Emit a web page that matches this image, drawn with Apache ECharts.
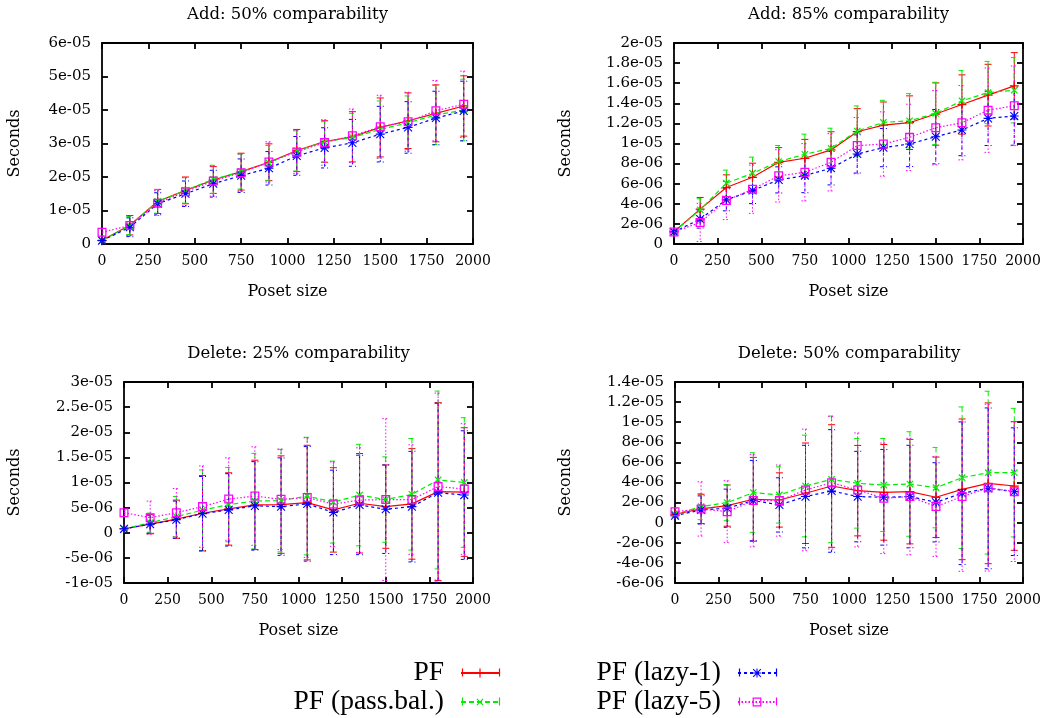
<!DOCTYPE html>
<html>
<head>
<meta charset="utf-8">
<script src="https://cdn.jsdelivr.net/npm/echarts@6/dist/echarts.min.js"></script>
<style>
  html, body { margin: 0; padding: 0; background: #fff; }
  #chart { width: 1060px; height: 718px; }
</style>
</head>
<body>
<div id="chart"></div>
<script>
// ---------------- DATA ----------------
const posetSizes = [0, 150, 300, 450, 600, 750, 900, 1050, 1200, 1350, 1500, 1650, 1800, 1950];
const seriesNames = ['PF', 'PF (pass.bal.)', 'PF (lazy-1)', 'PF (lazy-5)'];
const panelTitles = ['Add: 50% comparability', 'Add: 85% comparability', 'Delete: 25% comparability', 'Delete: 50% comparability'];
const xAxisName = 'Poset size';
const yAxisName = 'Seconds';

// Add: 50% comparability (seconds)
const add50_pf      = [0.11e-5, 0.56e-5, 1.27e-5, 1.60e-5, 1.91e-5, 2.16e-5, 2.44e-5, 2.79e-5, 3.06e-5, 3.20e-5, 3.48e-5, 3.68e-5, 3.90e-5, 4.12e-5];
const add50_pf_err  = [0.05e-5, 0.29e-5, 0.36e-5, 0.40e-5, 0.40e-5, 0.55e-5, 0.55e-5, 0.63e-5, 0.62e-5, 0.75e-5, 0.88e-5, 0.83e-5, 0.85e-5, 0.90e-5];
const add50_pb      = [0.10e-5, 0.55e-5, 1.27e-5, 1.60e-5, 1.93e-5, 2.16e-5, 2.42e-5, 2.78e-5, 3.05e-5, 3.18e-5, 3.42e-5, 3.62e-5, 3.85e-5, 4.00e-5];
const add50_pb_err  = [0.05e-5, 0.27e-5, 0.35e-5, 0.38e-5, 0.42e-5, 0.52e-5, 0.52e-5, 0.60e-5, 0.60e-5, 0.72e-5, 0.85e-5, 0.80e-5, 0.88e-5, 0.92e-5];
const add50_l1      = [0.10e-5, 0.50e-5, 1.20e-5, 1.50e-5, 1.80e-5, 2.04e-5, 2.26e-5, 2.63e-5, 2.87e-5, 3.02e-5, 3.28e-5, 3.48e-5, 3.76e-5, 3.97e-5];
const add50_l1_err  = [0.05e-5, 0.28e-5, 0.33e-5, 0.38e-5, 0.40e-5, 0.50e-5, 0.50e-5, 0.58e-5, 0.60e-5, 0.70e-5, 0.83e-5, 0.77e-5, 0.80e-5, 0.89e-5];
const add50_l5      = [0.35e-5, 0.55e-5, 1.22e-5, 1.56e-5, 1.88e-5, 2.13e-5, 2.45e-5, 2.75e-5, 3.03e-5, 3.23e-5, 3.50e-5, 3.65e-5, 3.98e-5, 4.17e-5];
const add50_l5_err  = [0.10e-5, 0.30e-5, 0.37e-5, 0.42e-5, 0.45e-5, 0.56e-5, 0.60e-5, 0.65e-5, 0.68e-5, 0.80e-5, 0.94e-5, 0.88e-5, 0.90e-5, 0.99e-5];

// Add: 85% comparability (seconds)
const add85_pf      = [1.22e-6, 3.47e-6, 5.62e-6, 6.64e-6, 8.13e-6, 8.53e-6, 9.36e-6, 11.17e-6, 11.83e-6, 12.07e-6, 12.93e-6, 13.88e-6, 14.81e-6, 15.74e-6];
const add85_pf_err  = [0.20e-6, 1.16e-6, 1.26e-6, 1.40e-6, 1.46e-6, 1.88e-6, 1.81e-6, 2.30e-6, 2.30e-6, 2.67e-6, 3.10e-6, 2.95e-6, 3.07e-6, 3.30e-6];
const add85_pb      = [1.20e-6, 3.40e-6, 6.05e-6, 7.04e-6, 8.20e-6, 8.93e-6, 9.52e-6, 11.24e-6, 12.10e-6, 12.26e-6, 12.99e-6, 14.25e-6, 15.07e-6, 15.30e-6];
const add85_pb_err  = [0.20e-6, 1.10e-6, 1.30e-6, 1.60e-6, 1.60e-6, 2.00e-6, 2.00e-6, 2.50e-6, 2.20e-6, 2.70e-6, 3.10e-6, 3.00e-6, 3.10e-6, 3.25e-6];
const add85_l1      = [1.20e-6, 2.48e-6, 4.40e-6, 5.32e-6, 6.38e-6, 6.81e-6, 7.54e-6, 8.96e-6, 9.59e-6, 9.95e-6, 10.68e-6, 11.34e-6, 12.50e-6, 12.73e-6];
const add85_l1_err  = [0.20e-6, 0.90e-6, 1.10e-6, 1.30e-6, 1.30e-6, 1.70e-6, 1.66e-6, 1.90e-6, 1.90e-6, 2.25e-6, 2.70e-6, 2.55e-6, 2.70e-6, 2.90e-6];
const add85_l5      = [1.20e-6, 2.15e-6, 4.33e-6, 5.45e-6, 6.78e-6, 7.14e-6, 8.13e-6, 9.79e-6, 9.95e-6, 10.61e-6, 11.57e-6, 12.07e-6, 13.32e-6, 13.75e-6];
const add85_l5_err  = [0.25e-6, 1.90e-6, 1.90e-6, 2.40e-6, 2.60e-6, 2.85e-6, 2.85e-6, 2.80e-6, 3.20e-6, 3.30e-6, 3.70e-6, 3.70e-6, 4.20e-6, 3.96e-6];

// Delete: 25% comparability (seconds)
const del25_pf      = [0.78e-6, 1.70e-6, 2.70e-6, 3.88e-6, 4.74e-6, 5.54e-6, 5.60e-6, 6.00e-6, 4.55e-6, 5.87e-6, 5.20e-6, 5.74e-6, 8.18e-6, 8.10e-6];
const del25_pf_err  = [0.30e-6, 1.90e-6, 3.80e-6, 7.50e-6, 7.20e-6, 8.90e-6, 9.70e-6, 11.40e-6, 8.40e-6, 9.90e-6, 8.30e-6, 11.00e-6, 17.70e-6, 12.80e-6];
const del25_pb      = [0.78e-6, 2.00e-6, 3.20e-6, 4.50e-6, 5.60e-6, 6.30e-6, 6.40e-6, 7.30e-6, 6.10e-6, 7.50e-6, 6.60e-6, 7.65e-6, 10.50e-6, 10.00e-6];
const del25_pb_err  = [0.30e-6, 1.90e-6, 4.00e-6, 8.00e-6, 7.40e-6, 9.50e-6, 10.20e-6, 11.70e-6, 8.15e-6, 10.10e-6, 8.50e-6, 11.10e-6, 17.70e-6, 12.90e-6];
const del25_l1      = [0.78e-6, 1.70e-6, 2.60e-6, 3.80e-6, 4.55e-6, 5.35e-6, 5.20e-6, 5.75e-6, 4.05e-6, 5.54e-6, 4.68e-6, 5.20e-6, 7.97e-6, 7.50e-6];
const del25_l1_err  = [0.30e-6, 1.80e-6, 3.70e-6, 7.40e-6, 7.20e-6, 8.80e-6, 9.70e-6, 11.40e-6, 8.40e-6, 9.90e-6, 8.80e-6, 11.00e-6, 17.80e-6, 12.80e-6];
const del25_l5      = [4.00e-6, 3.00e-6, 4.00e-6, 5.20e-6, 6.70e-6, 7.30e-6, 6.65e-6, 7.00e-6, 5.70e-6, 6.50e-6, 6.60e-6, 6.60e-6, 9.20e-6, 8.70e-6];
const del25_l5_err  = [0.40e-6, 3.30e-6, 4.80e-6, 8.10e-6, 8.20e-6, 9.80e-6, 10.00e-6, 11.90e-6, 8.40e-6, 10.40e-6, 16.10e-6, 10.90e-6, 18.60e-6, 13.00e-6];

// Delete: 50% comparability (seconds)
const del50_pf      = [0.84e-6, 1.37e-6, 1.70e-6, 2.33e-6, 2.26e-6, 2.93e-6, 3.65e-6, 3.19e-6, 3.02e-6, 3.09e-6, 2.53e-6, 3.32e-6, 3.92e-6, 3.65e-6];
const del50_pf_err  = [0.30e-6, 1.46e-6, 2.05e-6, 4.17e-6, 2.70e-6, 5.00e-6, 6.10e-6, 4.50e-6, 4.76e-6, 5.20e-6, 4.00e-6, 7.00e-6, 8.00e-6, 6.40e-6];
const del50_pb      = [0.84e-6, 1.60e-6, 2.00e-6, 3.00e-6, 2.76e-6, 3.65e-6, 4.31e-6, 3.92e-6, 3.75e-6, 3.85e-6, 3.49e-6, 4.48e-6, 4.98e-6, 4.98e-6];
const del50_pb_err  = [0.30e-6, 1.30e-6, 1.80e-6, 3.96e-6, 2.80e-6, 5.06e-6, 6.30e-6, 4.46e-6, 4.63e-6, 5.20e-6, 4.00e-6, 7.04e-6, 8.10e-6, 6.40e-6];
const del50_l1      = [0.70e-6, 1.27e-6, 1.44e-6, 2.20e-6, 1.77e-6, 2.60e-6, 3.16e-6, 2.60e-6, 2.53e-6, 2.60e-6, 2.03e-6, 2.93e-6, 3.42e-6, 3.09e-6];
const del50_l1_err  = [0.30e-6, 1.40e-6, 1.90e-6, 4.00e-6, 2.70e-6, 5.10e-6, 6.10e-6, 4.50e-6, 4.76e-6, 5.10e-6, 3.94e-6, 7.10e-6, 8.00e-6, 6.35e-6];
const del50_l5      = [1.10e-6, 1.37e-6, 1.10e-6, 2.20e-6, 2.20e-6, 3.26e-6, 3.98e-6, 3.26e-6, 2.43e-6, 2.60e-6, 1.60e-6, 2.60e-6, 3.49e-6, 3.09e-6];
const del50_l5_err  = [0.30e-6, 2.70e-6, 3.08e-6, 4.60e-6, 3.54e-6, 6.05e-6, 6.60e-6, 5.67e-6, 5.50e-6, 5.80e-6, 4.96e-6, 7.44e-6, 8.30e-6, 6.95e-6];

// y-axis ranges per panel: [min, max, interval]
const yRanges = [[0, 6e-5, 1e-5], [0, 2e-5, 2e-6], [-1e-5, 3e-5, 5e-6], [-6e-6, 1.4e-5, 2e-6]];

// ---------------- STYLE / LAYOUT ----------------
const SERIF = 'DejaVu Serif';
const colors = ['#ff0000', '#00ee00', '#0000ff', '#ff00ff'];
const dashes = ['solid', [5, 3], [3, 3], [1.5, 2]];
const barDashes = [null, [5, 3], [3, 3], [1.5, 2]];
const symbols = [
  'path://M4.3,0H5.7V10H4.3Z M0,4.3H10V5.7H0Z',
  'path://M4.3,0H5.7V10H4.3Z M0,4.3H10V5.7H0Z',
  'path://M4.4,0H5.6V10H4.4Z M0,4.4H10V5.6H0Z M1.05,0.2L9.8,8.95L8.95,9.8L0.2,1.05Z M8.95,0.2L9.8,1.05L1.05,9.8L0.2,8.95Z',
  'path://M0,0H10V10H0Z M1.4,1.4V8.6H8.6V1.4Z'
];
const symbolRot = [0, 45, 0, 0];
const grids = [
  {left: 102, top: 43, width: 371, height: 201},
  {left: 674, top: 43, width: 349, height: 201},
  {left: 124, top: 382, width: 349, height: 201},
  {left: 675, top: 382, width: 348, height: 201}
];
const titleTops = [6, 6, 345, 345];
const yNameGaps = [79, 100, 101, 101];

const panelData = [
  [[add50_pf, add50_pf_err], [add50_pb, add50_pb_err], [add50_l1, add50_l1_err], [add50_l5, add50_l5_err]],
  [[add85_pf, add85_pf_err], [add85_pb, add85_pb_err], [add85_l1, add85_l1_err], [add85_l5, add85_l5_err]],
  [[del25_pf, del25_pf_err], [del25_pb, del25_pb_err], [del25_l1, del25_l1_err], [del25_l5, del25_l5_err]],
  [[del50_pf, del50_pf_err], [del50_pb, del50_pb_err], [del50_l1, del50_l1_err], [del50_l5, del50_l5_err]]
];

function gnuFmt(v) {
  if (Math.abs(v) < 1e-12) return '0';
  const s = v.toExponential(1);
  let [m, e] = s.split('e');
  m = m.replace(/\.0$/, '');
  const sign = e[0];
  let d = e.slice(1);
  if (d.length < 2) d = '0' + d;
  return m + 'e' + sign + d;
}
function plainFmt(v) { return String(Math.round(v)); }

function errRenderer(color, dash) {
  return function (params, api) {
    const x = api.value(0), y = api.value(1), e = api.value(2);
    const top = api.coord([x, y + e]);
    const bot = api.coord([x, y - e]);
    const cw = 3.5;
    const style = {stroke: color, lineWidth: 1, fill: null, lineDash: dash || null};
    return {
      type: 'group',
      children: [
        {type: 'line', shape: {x1: top[0], y1: top[1], x2: bot[0], y2: bot[1]}, style: style},
        {type: 'line', shape: {x1: top[0] - cw, y1: top[1], x2: top[0] + cw, y2: top[1]}, style: style},
        {type: 'line', shape: {x1: bot[0] - cw, y1: bot[1], x2: bot[0] + cw, y2: bot[1]}, style: style}
      ]
    };
  };
}

const axisLineStyle = {color: '#000', width: 1.8};
const xAxes = [], yAxes = [], series = [], titles = [];
grids.forEach((g, i) => {
  xAxes.push({
    type: 'value', gridIndex: i, position: 'bottom', min: 0, max: 2000, interval: 250,
    axisLine: {show: true, onZero: false, lineStyle: axisLineStyle},
    axisTick: {show: true, inside: true, length: 6, lineStyle: axisLineStyle},
    axisLabel: {show: true, color: '#000', fontFamily: SERIF, fontSize: 14, margin: 10, formatter: plainFmt},
    splitLine: {show: false},
    name: xAxisName, nameLocation: 'middle', nameGap: 40,
    nameTextStyle: {color: '#000', fontFamily: SERIF, fontSize: 16}
  });
  xAxes.push({
    type: 'value', gridIndex: i, position: 'top', min: 0, max: 2000, interval: 250,
    axisLine: {show: true, onZero: false, lineStyle: axisLineStyle},
    axisTick: {show: true, inside: true, length: 6, lineStyle: axisLineStyle},
    axisLabel: {show: false}, splitLine: {show: false}
  });
  const [ymin, ymax, yint] = yRanges[i];
  yAxes.push({
    type: 'value', gridIndex: i, position: 'left', min: ymin, max: ymax, interval: yint,
    axisLine: {show: true, onZero: false, lineStyle: axisLineStyle},
    axisTick: {show: true, inside: true, length: 6, lineStyle: axisLineStyle},
    axisLabel: {show: true, color: '#000', fontFamily: SERIF, fontSize: 15, margin: 11, formatter: gnuFmt},
    splitLine: {show: false},
    name: yAxisName, nameLocation: 'middle', nameGap: yNameGaps[i], nameRotate: 90,
    nameMoveOverlap: false,
    nameTextStyle: {color: '#000', fontFamily: SERIF, fontSize: 16}
  });
  yAxes.push({
    type: 'value', gridIndex: i, position: 'right', min: ymin, max: ymax, interval: yint,
    axisLine: {show: true, onZero: false, lineStyle: axisLineStyle},
    axisTick: {show: true, inside: true, length: 6, lineStyle: axisLineStyle},
    axisLabel: {show: false}, splitLine: {show: false}
  });
  titles.push({
    text: panelTitles[i], left: g.left + g.width / 2, top: titleTops[i], textAlign: 'center', padding: 0,
    textStyle: {color: '#000', fontFamily: SERIF, fontSize: 16.5, fontWeight: 'normal'}
  });
  panelData[i].forEach((sd, k) => {
    const [vals, errs] = sd;
    series.push({
      type: 'line', name: seriesNames[k], xAxisIndex: 2 * i, yAxisIndex: 2 * i,
      data: posetSizes.map((x, j) => [x, vals[j]]),
      symbol: symbols[k], symbolSize: 9, symbolRotate: symbolRot[k], showAllSymbol: true,
      lineStyle: {color: colors[k], width: 1.2, type: dashes[k]},
      itemStyle: {color: colors[k]},
      emphasis: {disabled: true}, silent: true, z: 3 + k * 0.01, clip: true
    });
    series.push({
      type: 'custom', name: seriesNames[k], xAxisIndex: 2 * i, yAxisIndex: 2 * i,
      data: posetSizes.map((x, j) => [x, vals[j], errs[j]]),
      encode: {x: 0, y: 1},
      renderItem: errRenderer(colors[k], barDashes[k]),
      silent: true, z: 2, clip: true
    });
  });
});

const legendCommon = {
  orient: 'vertical', align: 'right', padding: 0, itemWidth: 38, itemHeight: 11,
  selectedMode: false,
  textStyle: {color: '#000', fontFamily: 'Liberation Serif', fontSize: 27.5, padding: [0, 12, 0, 0]}
};
const legends = [
  Object.assign({}, legendCommon, {data: [seriesNames[0]], right: 560, top: 659}),
  Object.assign({}, legendCommon, {data: [seriesNames[1]], right: 560, top: 688}),
  Object.assign({}, legendCommon, {data: [seriesNames[2]], right: 283, top: 659}),
  Object.assign({}, legendCommon, {data: [seriesNames[3]], right: 283, top: 688})
];

// error-bar end caps on the legend samples (decoration of the key)
const capSpecs = [[462, 500, 672.5, 0], [462, 500, 701.5, 1], [739, 777, 672.5, 2], [739, 777, 701.5, 3]];
const legendCaps = [];
capSpecs.forEach(([x1, x2, y, k]) => {
  [x1 + 0.5, x2 - 0.5].forEach(x => {
    legendCaps.push({
      type: 'line', silent: true, z: 10,
      shape: {x1: x, y1: y - 4, x2: x, y2: y + 4},
      style: {stroke: colors[k], lineWidth: 1.2}
    });
  });
});

const chart = echarts.init(document.getElementById('chart'), null, {renderer: 'canvas'});
chart.setOption({
  backgroundColor: '#fff',
  animation: false,
  title: titles,
  legend: legends,
  graphic: legendCaps,
  grid: grids.map(g => Object.assign({outerBoundsMode: 'none', containLabel: false}, g)),
  xAxis: xAxes,
  yAxis: yAxes,
  series: series
});
</script>
</body>
</html>
